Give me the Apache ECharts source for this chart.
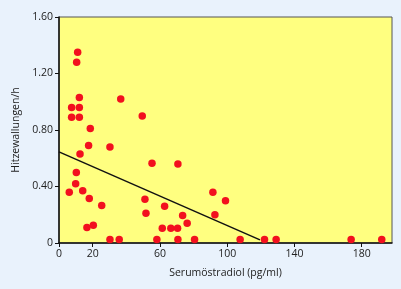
<!DOCTYPE html>
<html>
<head>
<meta charset="utf-8">
<script src="https://cdn.jsdelivr.net/npm/echarts@6/dist/echarts.min.js"></script>
<style>
    html, body { margin: 0; padding: 0; background: #e9f2fc; }
    #chart { width: 401px; height: 289px; }
</style>
</head>
<body>
<div id="chart"></div>
<script>
// Serumöstradiol (pg/ml) and Hitzewallungen/h of each patient
var oestradiol = [11.1, 10.5, 12.1, 7.5, 12.1, 7.5, 12.1, 36.7, 49.5, 18.6, 17.6, 30.3,
    12.5, 10.3, 9.9, 6.1, 14.1, 18.0, 25.4, 16.6, 20.4, 30.3, 35.8,
    55.3, 70.7, 51.1, 51.7, 62.8, 61.4, 66.5, 70.5, 58.2, 70.7, 73.5, 76.2, 80.6,
    91.5, 99.0, 92.7, 107.7, 122.2, 129.1, 173.7, 191.9];
var wallungen = [1.35, 1.28, 1.03, 0.96, 0.96, 0.89, 0.89, 1.02, 0.90, 0.81, 0.69, 0.68,
    0.63, 0.50, 0.42, 0.36, 0.37, 0.315, 0.265, 0.11, 0.125, 0.025, 0.025,
    0.565, 0.56, 0.31, 0.21, 0.26, 0.105, 0.105, 0.105, 0.025, 0.025, 0.195, 0.14, 0.025,
    0.36, 0.30, 0.20, 0.025, 0.025, 0.025, 0.025, 0.025];

// regression line end points
var trendX = [0, 119.5];
var trendY = [0.645, 0.022];

var xTicks = [0, 20, 60, 100, 140, 180];
var yTicks = [0, 0.4, 0.8, 1.2, 1.6];

var points = oestradiol.map(function (x, i) { return [x, wallungen[i]]; });
var trend = trendX.map(function (x, i) { return [x, trendY[i]]; });

var myChart = echarts.init(document.getElementById('chart'));

var labelFont = 'Open Sans';

var option = {
    backgroundColor: '#e9f2fc',
    animation: false,
    grid: {
        left: 59,
        right: 9,
        top: 17,
        bottom: 46,
        show: true,
        backgroundColor: '#ffff80',
        borderColor: '#555',
        borderWidth: 1
    },
    xAxis: {
        type: 'value',
        min: 0,
        max: 198,
        interval: 20,
        name: 'Serumöstradiol (pg/ml)',
        nameLocation: 'middle',
        nameGap: 25,
        nameTextStyle: { color: '#222', fontSize: 10.5, fontFamily: labelFont },
        splitLine: { show: false },
        axisLine: { lineStyle: { color: '#111', width: 1.5 } },
        axisTick: { customValues: xTicks, length: 4, lineStyle: { color: '#111' } },
        axisLabel: {
            customValues: xTicks,
            color: '#222',
            fontSize: 10.5,
            fontFamily: labelFont,
            margin: 6
        }
    },
    yAxis: {
        type: 'value',
        min: 0,
        max: 1.6,
        interval: 0.4,
        name: 'Hitzewallungen/h',
        nameLocation: 'middle',
        nameGap: 37,
        nameTextStyle: { color: '#222', fontSize: 10.5, fontFamily: labelFont },
        splitLine: { show: false },
        axisLine: { lineStyle: { color: '#111', width: 1.5 } },
        axisTick: { length: 4, lineStyle: { color: '#111' } },
        axisLabel: {
            customValues: yTicks,
            color: '#222',
            fontSize: 10.5,
            fontFamily: labelFont,
            margin: 6,
            formatter: function (v) { return v === 0 ? '0' : v.toFixed(2); }
        }
    },
    series: [
        {
            type: 'line',
            data: trend,
            symbol: 'none',
            lineStyle: { color: '#111', width: 1.5 },
            z: 2
        },
        {
            type: 'scatter',
            data: points,
            symbolSize: 7.5,
            itemStyle: { color: '#f2101e', opacity: 1 },
            z: 3
        }
    ]
};

myChart.setOption(option);
</script>
</body>
</html>
